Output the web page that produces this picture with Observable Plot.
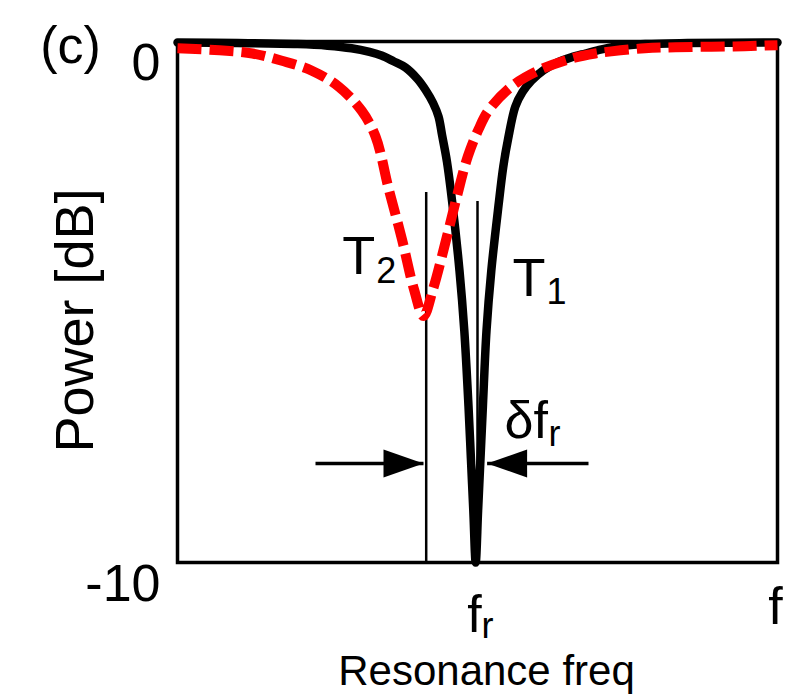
<!DOCTYPE html>
<html><head><meta charset="utf-8">
<script src="https://cdn.jsdelivr.net/npm/d3@7"></script>
<script src="https://cdn.jsdelivr.net/npm/@observablehq/plot@0.6"></script>
<style>body{margin:0;background:#fff} svg{display:block}</style>
</head><body><div id="chart"></div>
<script>
// Black (T1) resonance curve, frequency in % of axis span, power in dB
const blackF = [0, 10, 20, 25, 29, 32, 34, 36, 38, 40, 41.4, 42.6, 43.5, 44.1, 44.9, 45.8, 47.0, 47.8, 48.5, 48.9, 49.3, 49.7, 50.1, 50.5, 50.9, 51.5, 52.3, 53.5, 54.3, 55.1, 56.3, 57.5, 59.0, 61.0, 63.0, 65.5, 68.0, 70.0, 73, 78, 85, 100];
const blackDb = [-0.02, -0.03, -0.05, -0.08, -0.13, -0.2, -0.27, -0.38, -0.5, -0.72, -0.94, -1.18, -1.44, -1.8, -2.3, -3.1, -4.4, -5.55, -7.0, -8.0, -9.0, -10, -9.0, -8.0, -7.0, -5.55, -4.4, -3.15, -2.4, -1.87, -1.25, -0.97, -0.75, -0.55, -0.42, -0.31, -0.23, -0.17, -0.1, -0.05, -0.03, -0.02];
// Red dashed (T2) resonance curve
const redF = [0, 7, 12.5, 17.4, 22.4, 26.9, 30.7, 33.0, 35.2, 37.4, 39.4, 41.0, 42.6, 44.8, 46.6, 48.4, 50.2, 51.8, 55.6, 60.1, 65.6, 69.6, 72.3, 77.9, 83, 89, 94.5, 100];
const redDb = [-0.13, -0.17, -0.23, -0.37, -0.56, -0.87, -1.33, -1.82, -2.83, -3.79, -4.75, -5.27, -4.75, -3.79, -2.96, -2.2, -1.68, -1.33, -0.87, -0.56, -0.33, -0.23, -0.19, -0.13, -0.11, -0.1, -0.09, -0.07];
// Axes
const yDomain = [-10, 0];
const yTicks = [0, -10];
const yTickLabels = ["0", "-10"];
const xDomain = [0, 100];
const xTicks = [50, 100];
const xTickLabels = ["f", "f"];
const xTickSubs = ["r", ""];
// Resonance markers
const markerF = [41.45, 50];
const markerTop = [-2.9, -3.07];
const markerNames = ["T", "T"];
const markerSubs = ["2", "1"];
// δf_r arrows
const arrowFrom = [23, 68.5];
const arrowTo = [41.0, 51.6];
const arrowLevel = -8.1;
const arrowDir = [0, 180];

const FONT = "Liberation Sans, Arial, Helvetica, sans-serif";
const black = blackF.map((f, i) => ({f, db: blackDb[i]}));
const red = redF.map((f, i) => ({f, db: redDb[i]}));
const yt = yTicks.map((v, i) => ({v, label: yTickLabels[i]}));
const xt = xTicks.map((v, i) => ({v, label: xTickLabels[i], sub: xTickSubs[i]}));
const markers = markerF.map((f, i) => ({f, top: markerTop[i], bottom: yDomain[0], name: markerNames[i], sub: markerSubs[i]}));
const arrows = arrowFrom.map((f, i) => ({from: f, to: arrowTo[i], level: arrowLevel, rot: arrowDir[i]}));

const arrowHead = {
  draw(ctx, size) {
    const r = Math.sqrt(size / Math.PI);
    ctx.moveTo(0, 0);
    ctx.lineTo(-2 * r, -0.7 * r);
    ctx.lineTo(-2 * r, 0.7 * r);
    ctx.closePath();
  }
};

const plot = Plot.plot({
  width: 795,
  height: 700,
  marginLeft: 177,
  marginRight: 18,
  marginTop: 41,
  marginBottom: 138,
  style: {fontFamily: FONT, background: "#fff", color: "#000"},
  x: {domain: xDomain, axis: null},
  y: {domain: yDomain, axis: null},
  marks: [
    Plot.frame({stroke: "black", strokeWidth: 3.5}),
    Plot.ruleX(markers, {x: "f", y1: "top", y2: "bottom", stroke: "black", strokeWidth: 2.5}),
    Plot.link(arrows, {x1: "from", x2: "to", y1: "level", y2: "level", stroke: "black", strokeWidth: 3.5}),
    Plot.dot(arrows, {x: "to", y: "level", symbol: arrowHead, r: 20, rotate: "rot", fill: "black", stroke: "none"}),
    Plot.line(black, {x: "f", y: "db", stroke: "black", strokeWidth: 8.5, curve: "catmull-rom", strokeLinejoin: "round"}),
    Plot.line(red, {x: "f", y: "db", stroke: "#ff0000", strokeWidth: 10, strokeDasharray: "24,8", strokeLinecap: "butt", curve: "catmull-rom"}),
    // y tick labels
    Plot.text(yt, {frameAnchor: "left", y: "v", text: "label", textAnchor: "end", lineAnchor: "bottom", dx: -17, dy: 38, fontSize: 52, fontFamily: FONT, fill: "black"}),
    // x tick labels
    Plot.text(xt.slice(0, 1), {x: "v", frameAnchor: "bottom", text: "label", textAnchor: "middle", lineAnchor: "bottom", dx: -3, dy: 69, fontSize: 52, fontFamily: FONT, fill: "black"}),
    Plot.text(xt.slice(1), {x: "v", frameAnchor: "bottom", text: "label", textAnchor: "middle", lineAnchor: "bottom", dx: -2, dy: 61, fontSize: 52, fontFamily: FONT, fill: "black"}),
    Plot.text(xt.filter(d => d.sub), {x: "v", frameAnchor: "bottom", text: "sub", textAnchor: "start", lineAnchor: "bottom", dx: 4, dy: 75, fontSize: 36, fontFamily: FONT, fill: "black"}),
    // axis titles
    Plot.text(["Resonance freq"], {frameAnchor: "bottom", text: d => d, textAnchor: "middle", lineAnchor: "bottom", dx: 9, dy: 122, fontSize: 42, fontFamily: FONT, fill: "black"}),
    Plot.text(["Power [dB]"], {frameAnchor: "left", text: d => d, textAnchor: "middle", rotate: -90, lineAnchor: "bottom", dx: -85, dy: 18.5, fontSize: 54, fontFamily: FONT, fill: "black"}),
    Plot.text(["(c)"], {frameAnchor: "top-left", text: d => d, textAnchor: "middle", lineAnchor: "bottom", dx: -107, dy: 21, fontSize: 52, fontFamily: FONT, fill: "black"}),
    // T2 / T1 labels
    Plot.text(markers.slice(0, 1), {x: "f", frameAnchor: "top", text: "name", textAnchor: "start", lineAnchor: "bottom", dx: -84, dy: 232, fontSize: 54, fontFamily: FONT, fill: "black"}),
    Plot.text(markers.slice(0, 1), {x: "f", frameAnchor: "top", text: "sub", textAnchor: "start", lineAnchor: "bottom", dx: -50, dy: 241, fontSize: 36, fontFamily: FONT, fill: "black"}),
    Plot.text(markers.slice(1), {x: "f", frameAnchor: "top", text: "name", textAnchor: "start", lineAnchor: "bottom", dx: 35, dy: 254, fontSize: 54, fontFamily: FONT, fill: "black"}),
    Plot.text(markers.slice(1), {x: "f", frameAnchor: "top", text: "sub", textAnchor: "start", lineAnchor: "bottom", dx: 69, dy: 262, fontSize: 36, fontFamily: FONT, fill: "black"}),
    // δf_r label
    Plot.text(["δf"], {frameAnchor: "top-left", text: d => d, textAnchor: "start", lineAnchor: "bottom", dx: 327, dy: 396, fontSize: 52, fontFamily: FONT, fill: "black"}),
    Plot.text(["r"], {frameAnchor: "top-left", text: d => d, textAnchor: "start", lineAnchor: "bottom", dx: 371, dy: 404, fontSize: 36, fontFamily: FONT, fill: "black"})
  ]
});
document.getElementById("chart").appendChild(plot);
</script>
</body></html>
